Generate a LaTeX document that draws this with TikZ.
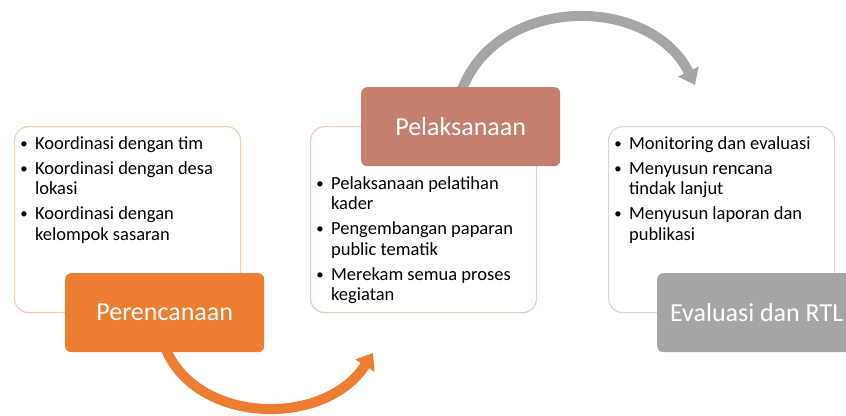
\documentclass[tikz,border=0pt]{standalone}
\usepackage{fontspec}
\setmainfont{Carlito}
\usetikzlibrary{arrows.meta}
\usetikzlibrary{backgrounds}
\definecolor{planorange}{HTML}{ED7D31}
\definecolor{dobrown}{RGB}{196,127,110}
\definecolor{evalgray}{HTML}{A5A5A5}
\definecolor{planline}{HTML}{F8CBAD}
\definecolor{doline}{HTML}{E8C9C0}
\definecolor{evalline}{HTML}{D6D6D6}
\newcommand{\blt}{\makebox[15.5pt][l]{\hspace{0.8pt}\raisebox{0.8pt}{\scalebox{0.8}{\textbullet}}}}
\tikzset{
    listbox/.style = {draw, line width=1.2pt, rounded corners=14pt, fill=white, minimum width=226pt, minimum height=186pt, anchor=north west, inner sep=0pt},
    titlebox/.style = {rounded corners=6pt, minimum width=199pt, minimum height=79pt, anchor=north west, inner sep=0pt, text=white, font=\fontsize{26}{30}\selectfont},
    itemlist/.style = {anchor=base west, inner sep=0pt, font=\fontsize{18.5}{20.5}\selectfont},
    cyclearrow/.style = {line width=10pt, -{Triangle[width=22pt,length=15pt]}}}

\begin{document}
\begin{tikzpicture}[x=1pt,y=-1pt]
        \useasboundingbox (0,0) rectangle (846,415);
        % perencanaan
        \node[listbox, draw=planline] (planbox) at (14,126) {};
        \node[itemlist] (planlist) at (19.4,149) {\begin{tabular}[t]{@{}l@{}l@{}}
            \blt & Koordinasi dengan tim\\[4.5pt]
            \blt & Koordinasi dengan desa\\
                 & lokasi\\[4.5pt]
            \blt & Koordinasi dengan\\
                 & kelompok sasaran
            \end{tabular}};
        \node[titlebox, fill=planorange] (plan) at (65,273) {Perencanaan};
        % pelaksanaan
        \node[listbox, draw=doline] (dobox) at (310,126) {};
        \node[titlebox, fill=dobrown] (do) at (361,87) {Pelaksanaan};
        \node[itemlist] (dolist) at (315.4,189) {\begin{tabular}[t]{@{}l@{}l@{}}
            \blt & Pelaksanaan pelatihan\\
                 & kader\\[4.5pt]
            \blt & Pengembangan paparan\\
                 & public tematik\\[4.5pt]
            \blt & Merekam semua proses\\
                 & kegiatan
            \end{tabular}};
        % evaluasi
        \node[listbox, draw=evalline] (evalbox) at (608,126) {};
        \node[itemlist] (evallist) at (613.4,149) {\begin{tabular}[t]{@{}l@{}l@{}}
            \blt & Monitoring dan evaluasi\\[4.5pt]
            \blt & Menyusun rencana\\
                 & tindak lanjut\\[4.5pt]
            \blt & Menyusun laporan dan\\
                 & publikasi
            \end{tabular}};
        \node[titlebox, fill=evalgray] (eval) at (657,273) {Evaluasi dan RTL};
        % arrows
        \coordinate (tipone) at (373,353);
        \coordinate (tiptwo) at (695,85);
        \begin{scope}[on background layer]
        \draw[cyclearrow, planorange] ([yshift=6pt]plan.south) .. controls (195,425) and (325,428) .. (tipone);
        \draw[cyclearrow, evalgray] ([yshift=-6pt]do.north) .. controls (495,-6) and (650,-6) .. (tiptwo);
        \end{scope}
\end{tikzpicture}
\end{document}
